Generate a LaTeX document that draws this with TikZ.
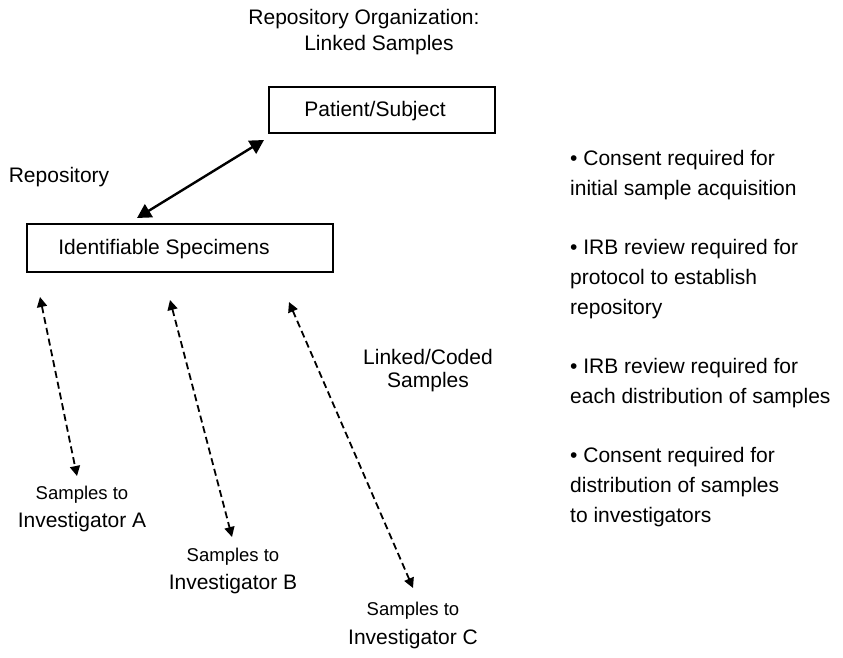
\documentclass[tikz,border=0pt]{standalone}
\usepackage{fontspec}
\setmainfont{Liberation Sans}
\usetikzlibrary{arrows.meta}
\begin{document}
\begin{tikzpicture}[x=1pt,y=-1pt,
  txt/.style={inner sep=0pt,font=\fontsize{21}{26}\selectfont},
  small/.style={inner sep=0pt,font=\fontsize{18.5}{22}\selectfont},
  boxed/.style={draw,line width=1.4pt,inner sep=0pt},
  solidarrow/.style={line width=2.4pt,{Triangle[length=14pt,width=15pt]}-{Triangle[length=14pt,width=15pt]}},
  dasharrow/.style={line width=1.8pt,dash pattern=on 7pt off 4pt,{Triangle[length=10pt,width=10pt]}-{Triangle[length=10pt,width=10pt]}}]
\useasboundingbox (0,0) rectangle (843,658);
\node[txt] (title1) at (364,19) {Repository Organization:};
\node[txt] (title2) at (379,45) {Linked Samples};
\node[boxed,minimum width=226pt,minimum height=46pt] (patient) at (382,110) {};
\node[txt] (patientt) at (375,111) {Patient/Subject};
\node[boxed,minimum width=306pt,minimum height=48pt] (spec) at (180,248) {};
\node[txt] (spect) at (164,249) {Identifiable Specimens};
\node[txt] (repo) at (59,177) {Repository};
\coordinate (s1) at (137,218);
\coordinate (s2) at (264,140);
\draw[solidarrow] (s1) -- (s2);
\coordinate (a1) at (40,297);
\coordinate (a2) at (77,476);
\coordinate (b1) at (170,300);
\coordinate (b2) at (232,537);
\coordinate (c1) at (289,302);
\coordinate (c2) at (413,588);
\draw[dasharrow] (a1) -- (a2);
\draw[dasharrow] (b1) -- (b2);
\draw[dasharrow] (c1) -- (c2);
\node[small] (sa) at (82,495) {Samples to};
\node[txt] (ia) at (82,522) {Investigator A};
\node[small] (sb) at (233,557) {Samples to};
\node[txt] (ib) at (233,584) {Investigator B};
\node[small] (sc) at (413,611) {Samples to};
\node[txt] (ic) at (413,639) {Investigator C};
\node[txt,align=center] (linked) at (428,371) {Linked/Coded\\[-3pt]Samples};
\node[txt,align=left,anchor=north west,font=\fontsize{21}{30}\selectfont] (bullets) at (570,150) {%
• Consent required for\\
initial sample acquisition\\[29pt]
• IRB review required for\\
protocol to establish\\
repository\\[29pt]
• IRB review required for\\
each distribution of samples\\[29pt]
• Consent required for\\
distribution of samples\\
to investigators};
\end{tikzpicture}
\end{document}
